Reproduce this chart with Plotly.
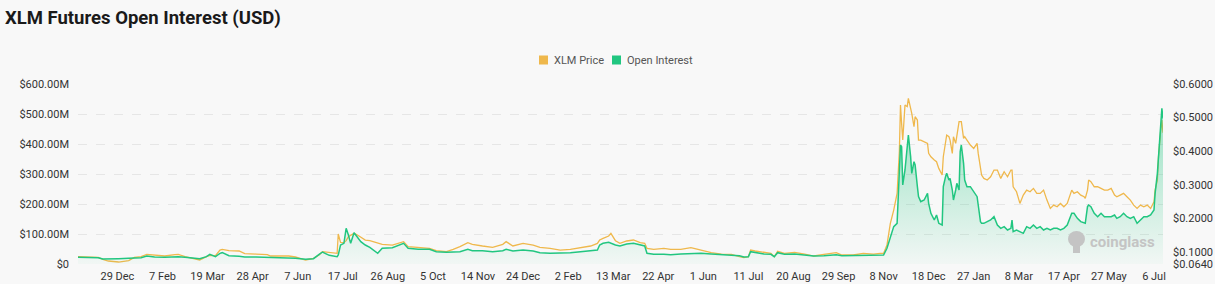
import plotly.graph_objects as go

# ---------------- data ----------------
dates = [
    "2022-11-24", "2022-12-03", "2022-12-12", "2022-12-16", "2022-12-21", "2022-12-30",
    "2023-01-08", "2023-01-13", "2023-01-19", "2023-01-24", "2023-01-31", "2023-02-09",
    "2023-02-18", "2023-02-21", "2023-02-27", "2023-03-08", "2023-03-12", "2023-03-18",
    "2023-03-21", "2023-03-26", "2023-03-30", "2023-04-01", "2023-04-07", "2023-04-16",
    "2023-04-21", "2023-05-01", "2023-05-11", "2023-05-14", "2023-05-30", "2023-06-05",
    "2023-06-14", "2023-06-21", "2023-06-26", "2023-06-29", "2023-07-05", "2023-07-12",
    "2023-07-13", "2023-07-15", "2023-07-18", "2023-07-20", "2023-07-22", "2023-07-24",
    "2023-07-27", "2023-07-30", "2023-08-02", "2023-08-06", "2023-08-10",
    "2023-08-17", "2023-08-21", "2023-08-30", "2023-09-06", "2023-09-09", "2023-09-13",
    "2023-09-22", "2023-10-02", "2023-10-08", "2023-10-17", "2023-10-23", "2023-10-29",
    "2023-11-05", "2023-11-09", "2023-11-18", "2023-11-27", "2023-12-06", "2023-12-09",
    "2023-12-15", "2023-12-24", "2024-01-02", "2024-01-08", "2024-01-17", "2024-01-26",
    "2024-02-04", "2024-02-13", "2024-02-22", "2024-02-28", "2024-03-01", "2024-03-04",
    "2024-03-09", "2024-03-11", "2024-03-15", "2024-03-19", "2024-03-25", "2024-03-31",
    "2024-04-06", "2024-04-10", "2024-04-12", "2024-04-18", "2024-04-27", "2024-05-03",
    "2024-05-12", "2024-05-21", "2024-05-30", "2024-06-08", "2024-06-17", "2024-06-26",
    "2024-07-03", "2024-07-07", "2024-07-11", "2024-07-13", "2024-07-17", "2024-07-25",
    "2024-07-31", "2024-08-03", "2024-08-06", "2024-08-12", "2024-08-21", "2024-08-30",
    "2024-09-07", "2024-09-16", "2024-09-27", "2024-10-02", "2024-10-12", "2024-10-21",
    "2024-10-30", "2024-11-05",
    "2024-11-08", "2024-11-11", "2024-11-14", "2024-11-17", "2024-11-20", "2024-11-22",
    "2024-11-23", "2024-11-24", "2024-11-25", "2024-11-27", "2024-11-29", "2024-11-30",
    "2024-12-02", "2024-12-03", "2024-12-05", "2024-12-06", "2024-12-08", "2024-12-09",
    "2024-12-11", "2024-12-14", "2024-12-17", "2024-12-18", "2024-12-20", "2024-12-23",
    "2024-12-25", "2024-12-27", "2024-12-30", "2024-12-31", "2025-01-02", "2025-01-03",
    "2025-01-05", "2025-01-06", "2025-01-08", "2025-01-09", "2025-01-11", "2025-01-12",
    "2025-01-14", "2025-01-15", "2025-01-16", "2025-01-18", "2025-01-19", "2025-01-21",
    "2025-01-24", "2025-01-27", "2025-01-30", "2025-01-31", "2025-02-02", "2025-02-03",
    "2025-02-05", "2025-02-08", "2025-02-11", "2025-02-14", "2025-02-17", "2025-02-20",
    "2025-02-23", "2025-02-26", "2025-03-01", "2025-03-02", "2025-03-03", "2025-03-06",
    "2025-03-09", "2025-03-12", "2025-03-15", "2025-03-18", "2025-03-21", "2025-03-24",
    "2025-03-27", "2025-03-30", "2025-04-02", "2025-04-05", "2025-04-08", "2025-04-11",
    "2025-04-14", "2025-04-17", "2025-04-20", "2025-04-23", "2025-04-24", "2025-04-26",
    "2025-04-29", "2025-05-02", "2025-05-05", "2025-05-06", "2025-05-08", "2025-05-09",
    "2025-05-11", "2025-05-14", "2025-05-17", "2025-05-20", "2025-05-23", "2025-05-26",
    "2025-05-29", "2025-06-01", "2025-06-03", "2025-06-06", "2025-06-09", "2025-06-12",
    "2025-06-15", "2025-06-18", "2025-06-21", "2025-06-24", "2025-06-27", "2025-06-30",
    "2025-07-03", "2025-07-06", "2025-07-07", "2025-07-09", "2025-07-10", "2025-07-12",
    "2025-07-13", "2025-07-14",
]

# Open interest, millions of USD
open_interest_musd = [
    22.2, 22.2, 21.1, 16.7, 17.8, 17.8,
    18.9, 20.0, 21.1, 26.7, 23.3, 22.2,
    23.3, 24.4, 22.2, 18.9, 17.8, 24.4,
    32.2, 24.4, 35.6, 37.8, 27.8, 25.6,
    23.3, 23.3, 22.2, 21.1, 21.1, 18.9,
    15.6, 17.8, 32.2, 40.0, 28.9, 24.4,
    30.0, 63.3, 68.9, 118.9, 96.7, 68.9,
    104.4, 91.1, 74.4, 63.3, 55.6,
    35.6, 52.2, 54.4, 65.6, 68.9, 52.2,
    48.9, 48.9, 41.1, 38.9, 38.9, 41.1,
    48.9, 44.4, 44.4, 41.1, 44.4, 48.9,
    43.3, 46.7, 43.3, 37.8, 35.6, 35.6,
    37.8, 41.1, 44.4, 46.7, 63.3, 68.9,
    72.2, 68.9, 63.3, 60.0, 66.7, 68.9,
    63.3, 60.0, 35.6, 32.2, 32.2, 31.1,
    33.3, 35.6, 35.6, 33.3, 31.1, 30.0,
    27.8, 23.3, 24.4, 41.1, 37.8, 33.3,
    32.2, 24.4, 37.8, 32.2, 33.3, 28.9,
    26.7, 27.8, 31.1, 27.8, 27.8, 28.9,
    30.0, 27.8,
    30.0, 52.3, 91.1, 124.5, 135.6, 300.0,
    396.7, 391.0, 263.4, 313.4, 380.0, 430.0,
    357.8, 302.2, 341.1, 330.0, 257.8, 224.5,
    207.8, 213.4, 235.6, 202.3, 168.9, 146.7,
    163.4, 135.6, 130.0, 257.8, 291.1, 302.2,
    280.0, 285.6, 246.7, 213.4, 246.7, 268.9,
    246.7, 374.5, 396.7, 335.6, 280.0, 257.8,
    257.8, 241.1, 224.5, 196.7, 141.2, 135.6,
    135.6, 141.2, 146.7, 157.8, 130.0, 118.9,
    124.5, 113.4, 118.9, 146.7, 107.8, 113.4,
    107.8, 102.3, 124.5, 118.9, 130.0, 118.9,
    124.5, 113.4, 118.9, 113.4, 118.9, 118.9,
    113.4, 118.9, 130.0, 163.4, 168.9, 168.9,
    152.3, 141.2, 135.6, 135.6, 191.2, 196.7,
    191.2, 168.9, 157.8, 168.9, 157.8, 157.8,
    157.8, 163.4, 152.3, 157.8, 168.9, 157.8,
    152.3, 157.8, 135.6, 146.7, 157.8, 157.8,
    163.4, 180.0, 235.6, 302.2, 357.8, 468.9,
    519.0, 485.0,
]

# XLM price, USD
xlm_price = [
    0.0858, 0.0858, 0.0838, 0.0778, 0.0729, 0.0699,
    0.0739, 0.0838, 0.0858, 0.0927, 0.0898, 0.0878,
    0.0917, 0.0927, 0.0858, 0.0798, 0.0759, 0.0858,
    0.0898, 0.0888, 0.1056, 0.1076, 0.1037, 0.1027,
    0.0947, 0.0937, 0.0917, 0.0878, 0.0878, 0.0848,
    0.0759, 0.0808, 0.0908, 0.1007, 0.0977, 0.0957,
    0.1533, 0.1285, 0.1275, 0.1334, 0.1454, 0.1503,
    0.1553, 0.1503, 0.1434, 0.1354, 0.1334,
    0.1255, 0.1225, 0.1205, 0.1275, 0.1305, 0.1156,
    0.1136, 0.1106, 0.1037, 0.1007, 0.1076, 0.1156,
    0.1275, 0.1225, 0.1176, 0.1136, 0.1225, 0.1305,
    0.1176, 0.1255, 0.1205, 0.1136, 0.1106, 0.1056,
    0.1076, 0.1136, 0.1176, 0.1255, 0.1354, 0.1404,
    0.1473, 0.1553, 0.1334, 0.1255, 0.1325, 0.1354,
    0.1275, 0.1255, 0.1106, 0.1076, 0.1106, 0.1076,
    0.1076, 0.1126, 0.1056, 0.0977, 0.0937, 0.0927,
    0.0858, 0.0828, 0.0858, 0.1056, 0.1027, 0.0977,
    0.0957, 0.0858, 0.1017, 0.0957, 0.0987, 0.0937,
    0.0878, 0.0927, 0.0977, 0.0908, 0.0908, 0.0957,
    0.0937, 0.0957,
    0.0954, 0.1203, 0.1848, 0.2245, 0.2742, 0.4000,
    0.5373, 0.4827, 0.4331, 0.5373, 0.5324, 0.5572,
    0.5324, 0.5125, 0.4728, 0.5026, 0.4927, 0.4331,
    0.4331, 0.4281, 0.4231, 0.3934, 0.3834, 0.3735,
    0.3685, 0.3487, 0.3288, 0.3834, 0.4380, 0.4479,
    0.4430, 0.4331, 0.3934, 0.4430, 0.4231, 0.4479,
    0.4877, 0.4877, 0.4877, 0.4380, 0.4430, 0.4331,
    0.4182, 0.4082, 0.4231, 0.3934, 0.3536, 0.3288,
    0.3189, 0.3139, 0.3238, 0.3437, 0.3437, 0.3189,
    0.3387, 0.3238, 0.3437, 0.3437, 0.2940, 0.2791,
    0.2444, 0.2692, 0.2841, 0.2791, 0.2891, 0.2742,
    0.2742, 0.2841, 0.2543, 0.2295, 0.2394, 0.2345,
    0.2444, 0.2345, 0.2444, 0.2742, 0.2841, 0.2742,
    0.2791, 0.2692, 0.2642, 0.2593, 0.2841, 0.3139,
    0.3089, 0.2940, 0.2940, 0.2891, 0.2841, 0.2841,
    0.2891, 0.2692, 0.2642, 0.2692, 0.2742, 0.2642,
    0.2543, 0.2394, 0.2295, 0.2394, 0.2345, 0.2394,
    0.2295, 0.2493, 0.2841, 0.3139, 0.3834, 0.4628,
    0.4926, 0.4550,
]

tick_dates = [
    "2022-12-29", "2023-02-07", "2023-03-19", "2023-04-28", "2023-06-07", "2023-07-17",
    "2023-08-26", "2023-10-05", "2023-11-14", "2023-12-24", "2024-02-02", "2024-03-13",
    "2024-04-22", "2024-06-01", "2024-07-11", "2024-08-20", "2024-09-29", "2024-11-08",
    "2024-12-18", "2025-01-27", "2025-03-08", "2025-04-17", "2025-05-27", "2025-07-06",
]
tick_labels = [
    "29 Dec", "7 Feb", "19 Mar", "28 Apr", "7 Jun", "17 Jul", "26 Aug", "5 Oct",
    "14 Nov", "24 Dec", "2 Feb", "13 Mar", "22 Apr", "1 Jun", "11 Jul", "20 Aug",
    "29 Sep", "8 Nov", "18 Dec", "27 Jan", "8 Mar", "17 Apr", "27 May", "6 Jul",
]
oi_ticks = [0, 100, 200, 300, 400, 500, 600]
oi_tick_labels = ["$0", "$100.00M", "$200.00M", "$300.00M", "$400.00M", "$500.00M", "$600.00M"]
price_ticks = [0.064, 0.1, 0.2, 0.3, 0.4, 0.5, 0.6]
price_tick_labels = ["$0.0640", "$0.1000", "$0.2000", "$0.3000", "$0.4000", "$0.5000", "$0.6000"]

series_names = ["XLM Price", "Open Interest"]

# ---------------- styling ----------------
W, H = 1215, 284
L, R, T, B = 78, 52, 84, 20
PRICE_COLOR = "#EFB84C"
OI_COLOR = "#21C680"
BG = "#F8F8F8"
FONT = "Roboto, Arial, sans-serif"

fig = go.Figure()

# price on the base axis (drawn right side), OI on the overlaying axis so it sits on top
fig.add_trace(go.Scatter(
    x=dates, y=xlm_price, name=series_names[0], mode="lines",
    line=dict(color=PRICE_COLOR, width=1.3), yaxis="y", showlegend=False,
    hovertemplate="%{x}<br>$%{y:.4f}<extra>XLM Price</extra>",
))
fig.add_trace(go.Scatter(
    x=dates, y=open_interest_musd, name=series_names[1], mode="lines",
    line=dict(color=OI_COLOR, width=1.5), yaxis="y2", showlegend=False,
    fill="tozeroy",
    fillgradient=dict(
        type="vertical",
        colorscale=[[0, "rgba(33,198,128,0.03)"], [1, "rgba(33,198,128,0.42)"]],
        start=0, stop=480,
    ),
    hovertemplate="%{x}<br>$%{y:.2f}M<extra>Open Interest</extra>",
))

pw = W - L - R
ph = H - T - B


def px_x(x):
    return (x - L) / pw


def px_y(y):
    return (H - B - y) / ph


shapes = []
annotations = []

# legend (squares + labels)
legend_items = [(539, series_names[0], PRICE_COLOR), (612, series_names[1], OI_COLOR)]
for x0, label, col in legend_items:
    shapes.append(dict(type="rect", xref="paper", yref="paper",
                       x0=px_x(x0), x1=px_x(x0 + 9), y0=px_y(64.5), y1=px_y(55.5),
                       fillcolor=col, line=dict(width=0), layer="above"))
    annotations.append(dict(text=label, xref="paper", yref="paper",
                            x=px_x(x0 + 13), y=px_y(60), xanchor="left", yanchor="middle",
                            showarrow=False, font=dict(size=11, color="#555555", family=FONT)))

# watermark
annotations.append(dict(text="<b>coinglass</b>", xref="paper", yref="paper",
                        x=px_x(1157), y=px_y(241.5), xanchor="right", yanchor="middle",
                        showarrow=False, font=dict(size=15, color="#C4C4C4", family=FONT)))
shapes.append(dict(type="circle", xref="paper", yref="paper",
                   x0=px_x(1068), x1=px_x(1085), y0=px_y(247), y1=px_y(231),
                   fillcolor="#C4C4C4", line=dict(width=0)))
shapes.append(dict(type="rect", xref="paper", yref="paper",
                   x0=px_x(1073), x1=px_x(1080), y0=px_y(253), y1=px_y(244),
                   fillcolor="#C4C4C4", line=dict(width=0)))

fig.update_layout(
    width=W, height=H,
    margin=dict(l=L, r=R, t=T, b=B, pad=0, autoexpand=False),
    paper_bgcolor=BG, plot_bgcolor=BG,
    font=dict(family=FONT, size=11, color="#333333"),
    title=dict(text="<b>XLM Futures Open Interest (USD)</b>", xref="container", yref="container",
               x=5 / W, y=1 - 18 / H, xanchor="left", yanchor="middle",
               font=dict(size=18.5, color="#1A1A1A", family=FONT)),
    xaxis=dict(type="date", range=["2022-11-24", "2025-07-14"], automargin=False,
               tickvals=tick_dates, ticktext=tick_labels, showgrid=False,
               showline=False, zeroline=False, ticks="", ticklabelstandoff=4,
               tickfont=dict(size=11, color="#333333")),
    yaxis=dict(side="right", range=[0.064, 0.6], tickvals=price_ticks, ticktext=price_tick_labels,
               showgrid=False, zeroline=False, showline=False, ticks="", automargin=False,
               ticklabelstandoff=9, tickfont=dict(size=11, color="#333333")),
    yaxis2=dict(side="left", overlaying="y", range=[0, 600], tickvals=oi_ticks,
                ticktext=oi_tick_labels, showgrid=True, gridcolor="#E6E6E6",
                griddash="dash", gridwidth=1, zeroline=False, showline=False, ticks="",
                automargin=False, ticklabelstandoff=8,
                tickfont=dict(size=11, color="#333333")),
    shapes=shapes, annotations=annotations,
    showlegend=False,
)

fig.write_html("out.html")
